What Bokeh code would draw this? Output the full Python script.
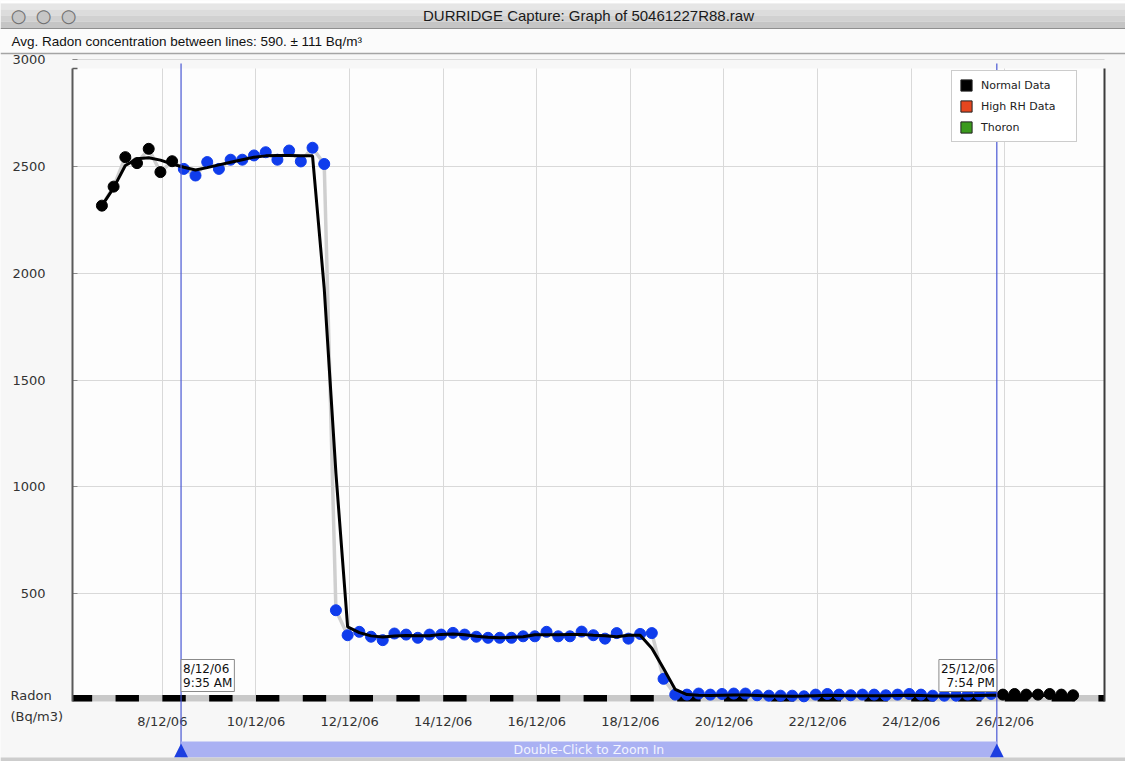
import pandas as pd
from bokeh.plotting import figure
from bokeh.models import (Range1d, FixedTicker, Label, BoxAnnotation, Legend,
                          LegendItem, PolyAnnotation, ColumnDataSource)
from bokeh.embed import file_html
from bokeh.resources import INLINE

# ---------------- data ----------------
window_title = "DURRIDGE Capture: Graph of 50461227R88.raw"
avg_text = "Avg. Radon concentration between lines: 590. \u00b1 111 Bq/m\u00b3"

reading_times = [
    "2006-12-06 17:00", "2006-12-06 23:00",
    "2006-12-07 05:00", "2006-12-07 11:00", "2006-12-07 17:00", "2006-12-07 23:00",
    "2006-12-08 05:00", "2006-12-08 11:00", "2006-12-08 17:00", "2006-12-08 23:00",
    "2006-12-09 05:00", "2006-12-09 11:00", "2006-12-09 17:00", "2006-12-09 23:00",
    "2006-12-10 05:00", "2006-12-10 11:00", "2006-12-10 17:00", "2006-12-10 23:00",
    "2006-12-11 05:00", "2006-12-11 11:00", "2006-12-11 17:00", "2006-12-11 23:00",
    "2006-12-12 05:00", "2006-12-12 11:00", "2006-12-12 17:00", "2006-12-12 23:00",
    "2006-12-13 05:00", "2006-12-13 11:00", "2006-12-13 17:00", "2006-12-13 23:00",
    "2006-12-14 05:00", "2006-12-14 11:00", "2006-12-14 17:00", "2006-12-14 23:00",
    "2006-12-15 05:00", "2006-12-15 11:00", "2006-12-15 17:00", "2006-12-15 23:00",
    "2006-12-16 05:00", "2006-12-16 11:00", "2006-12-16 17:00", "2006-12-16 23:00",
    "2006-12-17 05:00", "2006-12-17 11:00", "2006-12-17 17:00", "2006-12-17 23:00",
    "2006-12-18 05:00", "2006-12-18 11:00", "2006-12-18 17:00", "2006-12-18 23:00",
    "2006-12-19 05:00", "2006-12-19 11:00", "2006-12-19 17:00", "2006-12-19 23:00",
    "2006-12-20 05:00", "2006-12-20 11:00", "2006-12-20 17:00", "2006-12-20 23:00",
    "2006-12-21 05:00", "2006-12-21 11:00", "2006-12-21 17:00", "2006-12-21 23:00",
    "2006-12-22 05:00", "2006-12-22 11:00", "2006-12-22 17:00", "2006-12-22 23:00",
    "2006-12-23 05:00", "2006-12-23 11:00", "2006-12-23 17:00", "2006-12-23 23:00",
    "2006-12-24 05:00", "2006-12-24 11:00", "2006-12-24 17:00", "2006-12-24 23:00",
    "2006-12-25 05:00", "2006-12-25 11:00", "2006-12-25 17:00", "2006-12-25 23:00",
    "2006-12-26 05:00", "2006-12-26 11:00", "2006-12-26 17:00", "2006-12-26 23:00",
    "2006-12-27 05:00", "2006-12-27 11:00",
]

radon = [
    2317, 2406, 2544, 2516, 2583, 2474, 2525,
    2489, 2458, 2521, 2489, 2532, 2532, 2552, 2567, 2532, 2575, 2524, 2588, 2512,
    423, 306, 322, 299, 283, 314, 309, 294, 309, 309,
    317, 309, 299, 294, 294, 294, 301, 301, 322, 301,
    301, 323, 306, 290, 316, 290, 312, 316, 102,
    28, 28, 33, 28, 31, 33, 33, 25, 23, 23,
    23, 20, 28, 31, 28, 25, 28, 28, 25, 28,
    31, 28, 23, 23, 23, 28, 28, 31, 28, 31,
    28, 28, 31, 28, 25,
]

radon_smooth = [
    2317, 2400, 2505, 2536, 2541, 2530, 2512,
    2497, 2484, 2495, 2508, 2520, 2532, 2544, 2550, 2552, 2552, 2551, 2550, 1930,
    1065, 345, 318, 303, 298, 302, 305, 304, 304, 310,
    312, 308, 301, 296, 294, 296, 299, 308, 308, 308,
    309, 310, 306, 304, 299, 306, 306, 245, 150,
    52, 28, 25, 24, 25, 26, 26, 24, 22, 21,
    20, 21, 23, 25, 24, 23, 23, 23, 23, 24,
    25, 24, 22, 21, 22, 23, 24, 25, 25, 25,
    25, 24, 24, 23, 22,
]

y_ticks = [500, 1000, 1500, 2000, 2500, 3000]
date_ticks = ["2006-12-08", "2006-12-10", "2006-12-12", "2006-12-14", "2006-12-16",
              "2006-12-18", "2006-12-20", "2006-12-22", "2006-12-24", "2006-12-26"]
date_labels = ["8/12/06", "10/12/06", "12/12/06", "14/12/06", "16/12/06",
               "18/12/06", "20/12/06", "22/12/06", "24/12/06", "26/12/06"]
marker_times = ["2006-12-08 09:35", "2006-12-25 19:54"]
marker_labels = ["8/12/06\n9:35 AM", "25/12/06\n7:54 PM"]
legend_labels = ["Normal Data", "High RH Data", "Thoron"]
legend_colors = ["#000000", "#e5461f", "#3b9a1e"]
y_axis_name = ["Radon", "(Bq/m3)"]
zoom_text = "Double-Click to Zoom In"

# ---------------- geometry helpers (page pixels -> data space) ----------------
ORIGIN = pd.Timestamp("2006-12-01")


def to_day(s):
    return (pd.Timestamp(s) - ORIGIN) / pd.Timedelta(days=1) + 1.0


W, H = 1125, 761
X0, X1 = 6.08, 28.13            # time span of the plot box (days of December)
BOX_L, BOX_R = 72, 1104         # plot box, page pixels
PX_DAY = (BOX_R - BOX_L) / (X1 - X0)
PY_ZERO, PX_UNIT = 700.1, 0.21362
NAN = float("nan")


def xd(px):
    return X0 + (px - BOX_L) / PX_DAY


def yd(py):
    return (PY_ZERO - py) / PX_UNIT


YB, YT = yd(701), yd(68)        # bottom / top of the plot box in data units

x_days = [to_day(t) for t in reading_times]
tick_days = [to_day(d) for d in date_ticks]
left_day, right_day = [to_day(t) for t in marker_times]

BLUE = "#0f3cec"
LINE_BLUE = "#4a58d4"
FONT = "DejaVu Sans"


def hline(px_left, px_right, py, color, width):
    return PolyAnnotation(xs=[xd(px_left), xd(px_right)], ys=[yd(py), yd(py)],
                          line_color=color, line_alpha=1.0, line_width=width, fill_alpha=0)


p = figure(width=W, height=H, x_range=Range1d(xd(0), xd(W)), y_range=Range1d(yd(H), yd(0)),
           output_backend="svg", toolbar_location=None, min_border=0,
           background_fill_color="#f7f7f7", outline_line_color=None)

# plot-box background (below the grid)
p.add_layout(BoxAnnotation(left=X0, right=X1, bottom=YB, top=YT, fill_color="#fdfdfd",
                           fill_alpha=1.0, line_color=None, level="image"))

# grid limited to the plot box
p.xgrid.ticker = FixedTicker(ticks=tick_days)
p.ygrid.ticker = FixedTicker(ticks=y_ticks)
p.xgrid.bounds = (X0, X1)
p.ygrid.bounds = (YB, YT)
p.xgrid.cross_bounds = (YB, YT)
p.ygrid.cross_bounds = (X0, X1)
p.grid.grid_line_color = "#d9d9d9"
p.grid.grid_line_width = 1

# axes placed at the plot-box edges
p.yaxis.fixed_location = X0
p.yaxis.ticker = FixedTicker(ticks=y_ticks)
p.yaxis.axis_line_color = None
p.yaxis.major_tick_in = 5
p.yaxis.major_tick_out = 0
p.yaxis.major_tick_line_color = "#8a8a8a"
p.yaxis.minor_tick_line_color = None
p.yaxis.major_label_standoff = 27
p.yaxis.major_label_text_font = FONT
p.yaxis.major_label_text_font_size = "13px"
p.yaxis.major_label_text_color = "#333333"

p.xaxis.fixed_location = YB
p.xaxis.ticker = FixedTicker(ticks=tick_days)
p.xaxis.major_label_overrides = {int(round(d)): lab for d, lab in zip(tick_days, date_labels)}
p.xaxis.axis_line_color = None
p.xaxis.major_tick_line_color = None
p.xaxis.minor_tick_line_color = None
p.xaxis.major_label_standoff = 6
p.xaxis.major_label_text_font = FONT
p.xaxis.major_label_text_font_size = "13px"
p.xaxis.major_label_text_color = "#333333"

# plot-box side borders
for bx, col in ((X0, "#5a5a5a"), (X1, "#3c3c3c")):
    p.add_layout(PolyAnnotation(xs=[bx, bx], ys=[YB, YT], line_color=col, line_alpha=1.0,
                                line_width=2, fill_alpha=0))
p.add_layout(PolyAnnotation(xs=[X0, X0 + 5 / PX_DAY], ys=[YT, YT], line_color="#5a5a5a",
                            line_alpha=1.0, line_width=1.5, fill_alpha=0))

# day / night bar along the time axis
first_day, last_day = int(X0), int(X1)
day_starts = list(range(first_day, last_day + 1))
p.quad(left=[X0], right=[X1], bottom=[YB], top=[yd(694.5)],
       fill_color="#c9c9c9", line_color=None)
p.quad(left=[max(d, X0) for d in day_starts], right=[min(d + 0.5, X1) for d in day_starts],
       bottom=[YB] * len(day_starts), top=[yd(694.5)] * len(day_starts),
       fill_color="#000000", line_color=None)

# data
colors = [BLUE if left_day <= d <= right_day else "#000000" for d in x_days]
src = ColumnDataSource(dict(x=x_days, y=radon, s=radon_smooth, c=colors))
p.line("x", "y", source=src, line_color="#cfcfcf", line_width=3.5)
p.scatter("x", "y", source=src, size=11, fill_color="c", line_color="c")
p.line("x", "s", source=src, line_color="#000000", line_width=3)

# legend with swatches (swatch renderers carry no visible data)
items = []
for lab, col in zip(legend_labels, legend_colors):
    r = p.quad(left=[NAN], right=[NAN], top=[NAN], bottom=[NAN],
               fill_color=col, line_color="#222222")
    items.append(LegendItem(label=lab, renderers=[r]))
legend = Legend(items=items, location=(951, H - 142), glyph_width=14, glyph_height=14,
                label_text_font=FONT, label_text_font_size="11px",
                label_text_color="#222222", padding=7, spacing=7, label_standoff=8,
                margin=0, border_line_color="#9a9a9a", background_fill_color="#ffffff",
                background_fill_alpha=1.0, label_height=14, label_width=88)
p.add_layout(legend)

# vertical marker lines
for d in (left_day, right_day):
    p.add_layout(PolyAnnotation(xs=[d, d], ys=[yd(63), yd(750)], line_color=LINE_BLUE,
                                line_alpha=1.0, line_width=1.2, fill_alpha=0))

# marker callouts
for d, txt, align in ((left_day, marker_labels[0], "left"), (right_day, marker_labels[1], "right")):
    p.add_layout(Label(x=d, y=yd(659), text=txt, text_align=align, text_baseline="top",
                       text_font=FONT, text_font_size="12px", text_color="#111111",
                       text_line_height=1.0,
                       background_fill_color="#ffffff", border_line_color="#8a8a8a",
                       padding=2))

# zoom bar
p.add_layout(BoxAnnotation(left=left_day, right=right_day, top=yd(741), bottom=yd(757),
                           fill_color="#aab1f3", fill_alpha=1.0, line_color=None))
p.add_layout(Label(x=(left_day + right_day) / 2, y=yd(749),
                   text=zoom_text, text_align="center", text_baseline="middle",
                   text_font=FONT, text_font_size="12.5px", text_color="#f2f4ff"))
for d in (left_day, right_day):
    p.add_layout(PolyAnnotation(xs=[d - 7 / PX_DAY, d + 7 / PX_DAY, d],
                                ys=[yd(757), yd(757), yd(743)],
                                fill_color="#1d3fe0", fill_alpha=1.0, line_color=None))
p.add_layout(BoxAnnotation(left=xd(0), right=xd(W), top=yd(757), bottom=yd(H),
                           fill_color="#cdcdcd", fill_alpha=1.0, line_color=None))

# y axis name
for txt, py in zip(y_axis_name, (695, 716)):
    p.add_layout(Label(x=xd(10), y=yd(py), text=txt, text_align="left",
                       text_baseline="middle", text_font=FONT, text_font_size="13px",
                       text_color="#333333"))

# window title bar (stepped grey gradient)
p.add_layout(BoxAnnotation(left=xd(0), right=xd(W), top=yd(0), bottom=yd(3),
                           fill_color="#ffffff", fill_alpha=1.0, line_color=None))
for top_px, bot_px, col in ((3, 9, "#e6e6e6"), (9, 15, "#dcdcdc"), (15, 21, "#d1d1d1"),
                            (21, 28, "#c5c5c5")):
    p.add_layout(BoxAnnotation(left=xd(0), right=xd(W), top=yd(top_px), bottom=yd(bot_px),
                               fill_color=col, fill_alpha=1.0, line_color=None))
p.add_layout(hline(0, W, 28, "#8f8f8f", 1))
p.add_layout(Label(x=xd(588), y=yd(15), text=window_title, text_align="center",
                   text_baseline="middle", text_font="Liberation Sans",
                   text_font_size="15px", text_color="#1a1a1a"))
for bx in (18, 43, 68):
    p.add_layout(Label(x=xd(bx), y=yd(15), text="\u25cf", text_align="center",
                       text_baseline="middle", text_font=FONT, text_font_size="18px",
                       text_color="#c6c6c6"))
    p.add_layout(Label(x=xd(bx), y=yd(15), text="\u25cb", text_align="center",
                       text_baseline="middle", text_font=FONT, text_font_size="18px",
                       text_color="#6f6f6f"))

# average text and separator
p.add_layout(BoxAnnotation(left=xd(0), right=xd(W), top=yd(28.5), bottom=yd(53),
                           fill_color="#fbfbfb", fill_alpha=1.0, line_color=None))
p.add_layout(Label(x=xd(11), y=yd(41), text=avg_text, text_align="left",
                   text_baseline="middle", text_font="Liberation Sans",
                   text_font_size="13.5px", text_color="#111111"))
p.add_layout(hline(0, W, 53, "#a4a4a4", 1.5))

open("out.html", "w").write(file_html(p, INLINE))
